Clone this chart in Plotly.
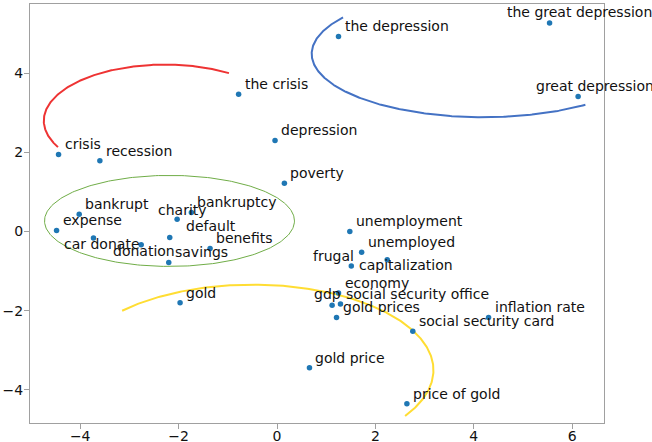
import numpy as np
import plotly.graph_objects as go

# ---- data ----
words = ["crisis", "recession", "the crisis", "depression", "poverty",
         "the depression", "the great depression", "great depression",
         "bankrupt", "expense", "car donate", "donation", "charity",
         "bankruptcy", "default", "benefits", "savings", "gold",
         "gold price", "unemployment", "unemployed", "capitalization",
         "frugal", "economy", "gdp", "social security office",
         "gold prices", "social security card", "inflation rate",
         "price of gold"]
x_vals = [-4.44, -3.60, -0.78, -0.04, 0.15,
          1.25, 5.54, 6.12,
          -4.02, -4.48, -3.73, -2.76, -2.03,
          -1.74, -2.18, -1.36, -2.20, -1.97,
          0.66, 1.48, 1.72, 2.24,
          1.51, 1.25, 1.12, 1.29,
          1.21, 2.76, 4.30,
          2.64]
y_vals = [1.95, 1.79, 3.47, 2.30, 1.22,
          4.93, 5.27, 3.41,
          0.44, 0.03, -0.16, -0.33, 0.31,
          0.485, -0.15, -0.43, -0.78, -1.80,
          -3.44, 0.0, -0.52, -0.71,
          -0.87, -1.55, -1.86, -1.83,
          -2.17, -2.52, -2.17,
          -4.35]
x_ticks = [-4, -2, 0, 2, 4, 6]
y_ticks = [-4, -2, 0, 2, 4]

# ---- label placement (pixel offsets: dx, baseline offset) ----
default_offset = (5, -4.5)
label_offsets = {
    "car donate": (-30, 11.6),
    "donation": (-29.3, 12.4),
    "charity": (-20, -4),
    "default": (15, -6.3),
    "gdp": (-19, -5.7),
    "frugal": (-39, -4),
    "capitalization": (-29.3, 10.7),
    "the great depression": (-43.6, -5.4),
    "great depression": (-43.3, -4.6),
}

# ---- highlight arcs: centre, half-width, half-height, start/end angle ----
arcs = [
    dict(cx=-2.28, cy=2.80, a=2.46, b=1.42, t1=58, t2=208, color="#ee3333", width=2),
    dict(cx=4.19, cy=4.49, a=3.485, b=1.60, t1=144.8, t2=306.6, color="#4472c4", width=2),
    dict(cx=-2.185, cy=0.27, a=2.54, b=1.15, t1=0, t2=360, color="#70ad47", width=1),
    dict(cx=-0.50, cy=-3.50, a=3.68, b=2.16, t1=136, t2=-32.5, color="#ffdd33", width=2),
]

FONT = "DejaVu Sans"
fig = go.Figure()

for arc in arcs:
    t = np.radians(np.linspace(arc["t1"], arc["t2"], 300))
    fig.add_trace(go.Scatter(
        x=arc["cx"] + arc["a"] * np.cos(t),
        y=arc["cy"] + arc["b"] * np.sin(t),
        mode="lines", line=dict(color=arc["color"], width=arc["width"]),
        hoverinfo="skip", showlegend=False))

fig.add_trace(go.Scatter(
    x=x_vals, y=y_vals, mode="markers",
    marker=dict(color="#1f77b4", size=5.5, line=dict(width=0)),
    text=words, hoverinfo="text", showlegend=False))

for w, xv, yv in zip(words, x_vals, y_vals):
    dx, db = label_offsets.get(w, default_offset)
    fig.add_annotation(
        x=xv, y=yv, xref="x", yref="y", text=w, showarrow=False,
        xanchor="left", yanchor="bottom",
        xshift=dx - 1, yshift=-db - 4.3,
        font=dict(family=FONT, size=14, color="#111111"))

axis_common = dict(
    showgrid=False, zeroline=False, showline=True, mirror=True,
    linecolor="#a0a0a0", linewidth=1, ticks="outside", ticklen=5,
    tickcolor="#a0a0a0", tickwidth=1, automargin=False,
    tickfont=dict(family=FONT, size=14, color="#111111"))

fig.update_layout(
    width=652, height=442,
    margin=dict(l=30, r=48, t=4, b=19, pad=0),
    paper_bgcolor="white", plot_bgcolor="white",
    showlegend=False,
    xaxis=dict(range=[-5.02, 6.646], tickvals=x_ticks,
               ticklabelstandoff=-5, **axis_common),
    yaxis=dict(range=[-4.836, 5.75], tickvals=y_ticks,
               ticklabelstandoff=-2, **axis_common),
)

fig.write_html(
    "out.html",
    config={"displayModeBar": False},
    post_script="document.body.style.margin='0';document.body.style.overflow='hidden';")
